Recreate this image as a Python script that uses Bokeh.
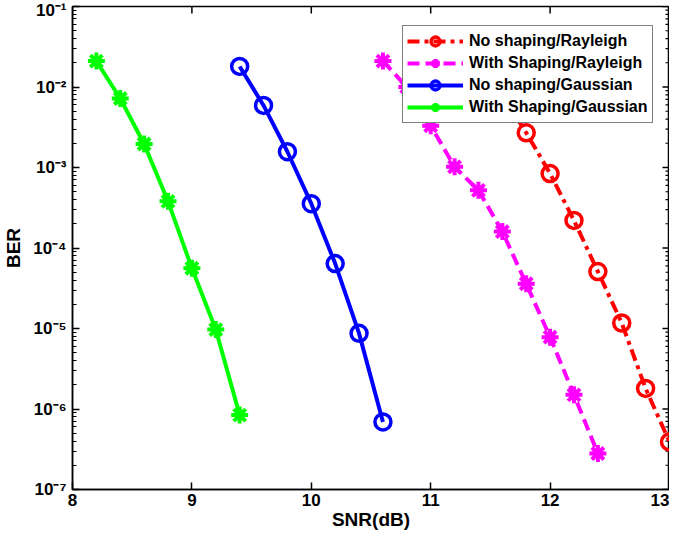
import math
from bokeh.plotting import figure
from bokeh.models import Range1d, FixedTicker, Legend, LegendItem
from bokeh.embed import file_html
from bokeh.resources import INLINE

# ---- data ----
snr_ns_ray = [11.6, 11.8, 12.0, 12.2, 12.4, 12.6, 12.8, 13.0]
ber_ns_ray = [8.0e-3, 2.7e-3, 8.4e-4, 2.2e-4, 5.1e-5, 1.17e-5, 1.8e-6, 3.9e-7]

snr_ws_ray = [10.6, 10.8, 11.0, 11.2, 11.4, 11.6, 11.8, 12.0, 12.2, 12.4]
ber_ws_ray = [2.1e-2, 1.0e-2, 3.3e-3, 1.02e-3, 5.2e-4, 1.6e-4, 3.6e-5, 7.8e-6, 1.5e-6, 2.8e-7]

snr_ns_gau = [9.4, 9.6, 9.8, 10.0, 10.2, 10.4, 10.6]
ber_ns_gau = [1.8e-2, 5.9e-3, 1.57e-3, 3.55e-4, 6.4e-5, 8.7e-6, 6.9e-7]

snr_ws_gau = [8.2, 8.4, 8.6, 8.8, 9.0, 9.2, 9.4]
ber_ws_gau = [2.1e-2, 7.2e-3, 1.96e-3, 3.8e-4, 5.6e-5, 9.7e-6, 8.4e-7]

series_names = ["No shaping/Rayleigh", "With Shaping/Rayleigh",
                "No shaping/Gaussian", "With Shaping/Gaussian"]

x_ticks = [8, 9, 10, 11, 12, 13]
y_ticks = [1e-7, 1e-6, 1e-5, 1e-4, 1e-3, 1e-2, 1e-1]
y_tick_labels = ["10\u207b\u2077", "10\u207b\u2076", "10\u207b\u2075", "10\u207b\u2074",
                 "10\u207b\u00b3", "10\u207b\u00b2", "10\u207b\u00b9"]
y_minor = [m * t for t in y_ticks[:-1] for m in range(2, 10)]

FONT = "Liberation Sans"
x_lo, x_hi = x_ticks[0], x_ticks[-1]
y_lo, y_hi = y_ticks[0], y_ticks[-1]

p = figure(width=669, height=532, y_axis_type="log",
           x_range=Range1d(x_lo, x_hi), y_range=Range1d(y_lo, y_hi),
           output_backend="svg", toolbar_location=None,
           min_border_left=60, min_border_right=0, min_border_top=6, min_border_bottom=40)
p.grid.visible = False
p.outline_line_color = "black"
p.outline_line_width = 1.5

xt = FixedTicker(ticks=x_ticks)
yt = FixedTicker(ticks=y_ticks, minor_ticks=y_minor)

def style_axis(ax):
    ax.axis_line_width = 1.5
    ax.axis_line_color = "black"
    ax.major_tick_line_width = 1.5
    ax.major_tick_line_color = "black"
    ax.minor_tick_line_color = "black"
    ax.minor_tick_line_width = 1.2
    ax.major_tick_in = 7
    ax.major_tick_out = 0
    ax.minor_tick_in = 4
    ax.minor_tick_out = 0
    ax.major_label_text_font = FONT
    ax.major_label_text_font_style = "bold"
    ax.major_label_text_font_size = "17px"
    ax.major_label_text_color = "black"
    ax.axis_label_text_font = FONT
    ax.axis_label_text_font_style = "bold"
    ax.axis_label_text_font_size = "19px"
    ax.axis_label_text_color = "black"

xa = p.xaxis[0]
xa.ticker = xt
style_axis(xa)
xa.axis_label = "SNR(dB)"
xa.major_label_standoff = 4
xa.axis_label_standoff = 0

ya = p.yaxis[0]
ya.ticker = yt
style_axis(ya)
ya.axis_label = "BER"
ya.major_label_standoff = 6
ya.axis_label_standoff = 6
ya.major_label_overrides = dict(zip(y_ticks, y_tick_labels))

# inward ticks on the top and right edges of the box
p.ray(x=x_ticks, y=[y_hi] * len(x_ticks), length=7, length_units="screen",
      angle=-math.pi / 2, line_color="black", line_width=1.5)
p.ray(x=[x_hi] * len(y_ticks), y=y_ticks, length=7, length_units="screen",
      angle=math.pi, line_color="black", line_width=1.5)
p.ray(x=[x_hi] * len(y_minor), y=y_minor, length=4, length_units="screen",
      angle=math.pi, line_color="black", line_width=1.2)

items = []

def add_series(xs, ys, color, dash, marker, name):
    ln = p.line(xs, ys, line_color=color, line_width=4, line_dash=dash)
    if marker == "circle":
        mk = p.scatter(xs, ys, marker="circle", size=16, line_color=color,
                       line_width=3.5, fill_color=None)
    else:
        mk = p.scatter(xs, ys, marker="asterisk", size=17, line_color=color,
                       line_width=4)
    items.append(LegendItem(label=name, renderers=[ln, mk]))

add_series(snr_ns_ray, ber_ns_ray, "#ff0000", "12 5 4 5", "circle", series_names[0])
add_series(snr_ws_ray, ber_ws_ray, "#ff00ff", "12 6", "asterisk", series_names[1])
add_series(snr_ns_gau, ber_ns_gau, "#0000ff", "solid", "circle", series_names[2])
add_series(snr_ws_gau, ber_ws_gau, "#00ff00", "solid", "asterisk", series_names[3])

legend = Legend(items=items, location=(330, 366))
legend.margin = 0
legend.padding = 4
legend.spacing = 0
legend.glyph_width = 56
legend.glyph_height = 22
legend.label_height = 22
legend.label_standoff = 6
legend.label_text_font = FONT
legend.label_text_font_style = "bold"
legend.label_text_font_size = "16px"
legend.label_text_color = "black"
legend.border_line_color = "black"
legend.border_line_width = 1.5
legend.background_fill_color = "white"
legend.background_fill_alpha = 1.0
p.add_layout(legend)

open("out.html", "w").write(file_html(p, INLINE))
